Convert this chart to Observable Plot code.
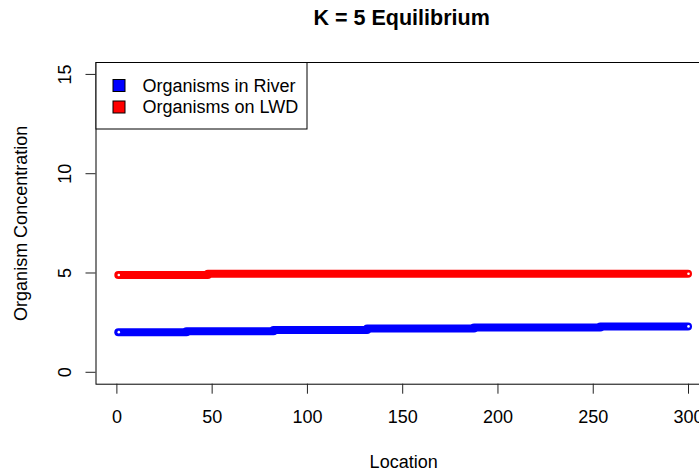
<!DOCTYPE html>
<html><head><meta charset="utf-8">
<script src="https://cdn.jsdelivr.net/npm/d3@7"></script>
<script src="https://cdn.jsdelivr.net/npm/@observablehq/plot@0.6"></script>
<style>
html,body{margin:0;padding:0;background:#fff;overflow:hidden;}
#chart svg{display:block;}
</style></head><body><div id="chart"></div>
<script>
const chartTitle = "K = 5 Equilibrium";
const xLabel = "Location";
const yLabel = "Organism Concentration";
const xTicks = [0, 50, 100, 150, 200, 250, 300];
const yTicks = [0, 5, 10, 15];
const seriesNames = ["Organisms in River", "Organisms on LWD"];
const seriesColors = ["#0000ff", "#ff0000"];
// step segments: location start, location end, concentration
const riverStart = [1, 36.8, 82.5, 131.6, 187.7, 254];
const riverEnd   = [36.8, 82.5, 131.6, 187.7, 254, 300];
const riverValue = [2.02, 2.07, 2.13, 2.2, 2.26, 2.31];
const lwdStart = [1, 48];
const lwdEnd   = [48, 300];
const lwdValue = [4.9, 4.96];

const segs = [];
riverStart.forEach((s, i) => segs.push({series: seriesNames[0], x1: s, x2: riverEnd[i], y: riverValue[i]}));
lwdStart.forEach((s, i) => segs.push({series: seriesNames[1], x1: s, x2: lwdEnd[i], y: lwdValue[i]}));
const ends = [
  {x: riverStart[0], y: riverValue[0]},
  {x: riverEnd[riverEnd.length - 1], y: riverValue[riverValue.length - 1]},
  {x: lwdStart[0], y: lwdValue[0]},
  {x: lwdEnd[lwdEnd.length - 1], y: lwdValue[lwdValue.length - 1]}
];

const FONT = "'Liberation Sans', Arial, sans-serif";
const W = 699, H = 474;
const mL = 95.5, mT = 62, mR = -11.8, mB = 90.3;

const plot = Plot.plot({
  width: W, height: H,
  marginLeft: mL, marginRight: mR, marginTop: mT, marginBottom: mB,
  style: {fontFamily: FONT, fontSize: "18px", color: "#000", background: "#fff"},
  x: {domain: [-10.96, 311.96]},
  y: {domain: [-0.6, 15.6]},
  color: {domain: seriesNames, range: seriesColors},
  marks: [
    Plot.ruleY(segs, {x1: "x1", x2: "x2", y: "y", stroke: "series", strokeWidth: 8, strokeLinecap: "round"}),
    Plot.dot(ends, {x: "x", y: "y", r: 1.3, fill: "white"}),
    Plot.frame({stroke: "#000"}),
    Plot.axisX({ticks: xTicks, tickSize: 10, tickPadding: 16.5, tickFormat: d => String(d), label: null, fontSize: 18, stroke: "#222"}),
    Plot.axisY({ticks: yTicks, tickSize: 10, tickFormat: () => "", label: null, stroke: "#222"}),
    Plot.text(yTicks, {y: d => d, frameAnchor: "left", dx: -31, rotate: -90, textAnchor: "middle", lineAnchor: "middle", text: d => String(d), fontSize: 18}),
    Plot.text([xLabel], {frameAnchor: "bottom", dy: 78, lineAnchor: "middle", text: d => d, fontSize: 18}),
    Plot.text([yLabel], {frameAnchor: "left", dx: -75, rotate: -90, textAnchor: "middle", lineAnchor: "middle", text: d => d, fontSize: 18}),
    Plot.text([chartTitle], {frameAnchor: "top", dy: -44, dx: -2, lineAnchor: "middle", text: d => d, fontSize: 21.5, fontWeight: "bold"})
  ]
});

// legend box in the top-left corner of the panel
const svg = d3.select(plot);
const g = svg.append("g").attr("font-family", FONT).attr("font-size", 18).attr("text-anchor", "start");
g.append("rect").attr("x", mL + 0.5).attr("y", mT + 0.5).attr("width", 211).attr("height", 66.5)
  .attr("fill", "white").attr("stroke", "black");
seriesNames.forEach((n, i) => {
  const cy = 85.5 + i * 21.5;
  g.append("rect").attr("x", 113).attr("y", cy - 6).attr("width", 12).attr("height", 12)
    .attr("fill", seriesColors[i]).attr("stroke", "black");
  g.append("text").attr("x", 142.5).attr("y", cy).attr("dy", "0.35em").attr("text-anchor", "start").attr("fill", "#000").text(n);
});

document.getElementById("chart").appendChild(plot);
</script>
</body></html>
